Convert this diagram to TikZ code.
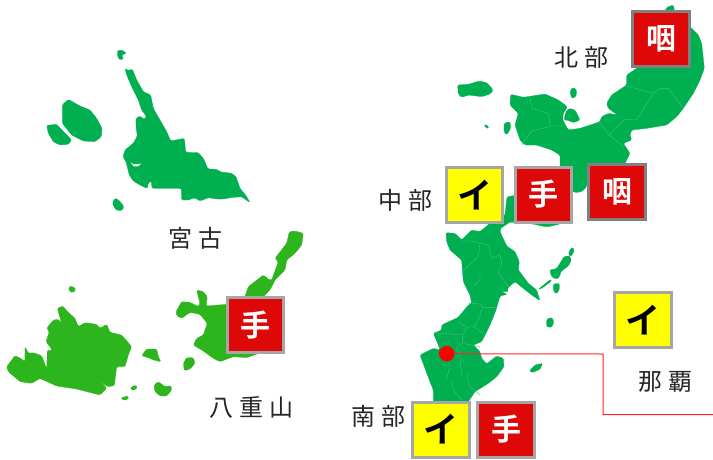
\documentclass[tikz,border=0pt]{standalone}
\usepackage{fontspec}
\setmainfont{Noto Sans CJK JP}
\newfontfamily\boxfont[BoldFont={Noto Sans CJK JP Bold}]{Noto Sans CJK JP}
\newcommand{\glyph}[1]{\raisebox{-3pt}{#1}}
\newcommand{\kerned}{\hspace{6pt}}
\definecolor{landA}{HTML}{00B050}
\definecolor{landB}{HTML}{2DB51D}
\definecolor{seam}{HTML}{45C277}
\definecolor{boxred}{HTML}{DF0808}
\definecolor{boxyellow}{HTML}{FFFF00}
\definecolor{edgeL}{HTML}{A6A6A6}
\definecolor{edgeD}{HTML}{808080}
\tikzset{
  landa/.style={fill=landA,draw=landA,line width=.3pt,line join=round,rounded corners=1.3pt},
  landb/.style={fill=landB,draw=landB,line width=.3pt,line join=round,rounded corners=1.3pt},
  seamline/.style={draw=seam,line width=.4pt,line join=round,rounded corners=1pt},
  mark box/.style={minimum width=56.5pt,minimum height=55pt,inner sep=0pt,line width=3pt,font=\boxfont\bfseries\fontsize{30}{30}\selectfont},
  redbox/.style={mark box,fill=boxred,text=white,draw=edgeL},
  redboxd/.style={redbox,draw=edgeD},
  yellowbox/.style={mark box,fill=boxyellow,text=black,draw=edgeL,font=\boxfont\bfseries\fontsize{35}{35}\selectfont},
  area/.style={font=\fontsize{24}{24}\selectfont,text=black!85,inner sep=0pt},
  zoomed/.style={x=.33333pt,y=-.33333pt}
}
\begin{document}
\begin{tikzpicture}[x=1pt,y=-1pt]
\useasboundingbox (0,0) rectangle (713,459);
% Miyako
\begin{scope}[yshift=-30pt,zoomed]
\path[landa] (375,115)--(385,122)--(397,117)--(410,150)--(430,185)--(452,195)--(460,235)--(480,270)--(500,305)--(512,333)--(553,325)--(557,367)--(595,368)--(610,385)--(624,417)--(650,418)--(662,426)--(695,430)--(708,440)--(720,475)--(738,497)--(750,518)--(725,500)--(690,503)--(672,507)--(650,507)--(625,503)--(600,513)--(585,503)--(565,510)--(545,510)--(544,475)--(456,475)--(454,453)--(444,460)--(443,475)--(425,468)--(400,453)--(388,435)--(378,395)--(369,380)--(375,360)--(400,340)--(412,318)--(408,290)--(408,265)--(420,258)--(432,268)--(440,260)--(425,240)--(415,210)--(395,170)--(380,135)--cycle;
\fill[white] (391,396)--(400,403)--(424,401)--(414,409)--(401,409)--cycle;
\path[landa] (352,62)--(365,60)--(380,70)--(370,72)--(364,78)--(372,85)--(360,90)--(353,80)--cycle;
\path[landa] (187,225)--(205,208)--(240,228)--(270,240)--(290,265)--(306,295)--(304,320)--(285,335)--(250,333)--(215,315)--(187,280)--cycle;
\path[landa] (140,286)--(170,283)--(215,330)--(205,343)--(180,345)--(160,335)--(145,310)--cycle;
\path[landa] (345,504)--(358,512)--(372,530)--(365,542)--(348,540)--(337,520)--cycle;
\end{scope}
% Yaeyama
\begin{scope}[yshift=-225pt,zoomed]
\path[landb] (20,425)--(45,392)--(62,400)--(75,410)--(75,365)--(85,385)--(100,383)--(125,392)--(140,432)--(142,375)--(155,378)--(155,372)--(138,350)--(148,320)--(140,310)--(160,285)--(175,283)--(185,295)--(172,250)--(188,243)--(205,262)--(225,280)--(235,305)--(255,293)--(290,298)--(300,310)--(320,298)--(330,322)--(365,330)--(395,365)--(385,390)--(375,425)--(350,425)--(343,482)--(322,485)--(298,465)--(320,490)--(300,510)--(280,505)--(230,492)--(170,483)--(120,460)--(95,475)--(60,470)--(25,440)--cycle;
\path[landb] (528,260)--(545,230)--(570,232)--(595,245)--(600,235)--(590,195)--(610,200)--(622,215)--(618,243)--(680,238)--(700,220)--(735,215)--(745,185)--(790,150)--(808,165)--(815,165)--(835,110)--(825,100)--(860,55)--(868,20)--(885,18)--(910,25)--(905,60)--(885,85)--(860,105)--(855,135)--(825,165)--(810,195)--(790,215)--(790,380)--(740,398)--(700,395)--(660,410)--(640,400)--(610,378)--(580,360)--(590,340)--(610,330)--(622,295)--(600,268)--(570,262)--(545,280)--(530,272)--cycle;
\path[landb] (205,188)--(215,183)--(228,192)--(220,203)--(210,200)--cycle;
\path[landb] (425,392)--(440,372)--(470,372)--(475,395)--(483,410)--(460,405)--(445,398)--cycle;
\path[landb] (550,415)--(560,398)--(580,398)--(585,415)--(570,432)--(553,437)--cycle;
\path[landb] (390,490)--(405,480)--(413,487)--(400,497)--cycle;
\path[landb] (363,518)--(385,513)--(385,522)--(370,526)--cycle;
\path[landb] (462,480)--(475,470)--(495,485)--(513,482)--(515,495)--(500,513)--(480,513)--(465,500)--cycle;
\end{scope}
% Okinawa, north
\begin{scope}[xshift=480pt,zoomed]
\path[landa] (560,22)--(580,15)--(585,40)--(630,80)--(655,105)--(665,130)--(673,205)--(660,240)--(640,280)--(610,325)--(590,350)--(560,375)--(500,385)--(455,390)--(450,405)--(455,420)--(430,430)--(450,460)--(435,490)--(400,560)--(322,560)--(322,540)--(305,518)--(322,520)--(320,560)--(305,575)--(285,578)--(240,540)--(240,465)--(215,450)--(170,435)--(135,435)--(120,420)--(105,375)--(115,340)--(90,315)--(92,283)--(130,292)--(195,282)--(235,300)--(262,320)--(250,340)--(248,360)--(265,390)--(300,385)--(360,365)--(365,350)--(385,340)--(412,345)--(385,325)--(380,310)--(395,285)--(440,255)--(440,225)--(470,205)--(500,190)--cycle;
\path[landa] (268,325)--(285,330)--(300,360)--(280,368)--(262,360)--(252,360)--(258,335)--cycle;
\path[landa] (270,275)--(278,262)--(290,270)--(288,290)--(275,295)--cycle;
\path[landa] (72,370)--(90,365)--(92,385)--(80,405)--(72,395)--cycle;
\path[landa] (12,373)--(25,378)--(26,385)--(18,384)--cycle;
\path[landa] (-67,255)--(-35,253)--(-2,243)--(20,248)--(40,270)--(30,282)--(5,290)--(-35,285)--(-55,292)--(-65,282)--cycle;
\draw[seamline] (150,290)--(155,325)--(205,340)--(210,378)--(245,378);
\draw[seamline] (125,435)--(155,392)--(210,380);
\draw[seamline] (360,368)--(388,405)--(430,440);
\draw[seamline] (388,405)--(432,358)--(470,360)--(520,280)--(540,265)--(565,265)--(610,325);
\draw[seamline] (440,258)--(520,280);
\end{scope}
% bridge
\path[landa] (507,197)--(516,195)--(560,200)--(560,224)--(547,227)--(533,224)--(510,222)--(495,232)--(490,230)--(505,215)--cycle;
% Okinawa, centre and south
\begin{scope}[xshift=400pt,yshift=-210pt,zoomed]
\path[landa] (138,68)--(165,70)--(185,90)--(215,60)--(240,65)--(270,40)--(310,30)--(300,65)--(320,108)--(345,125)--(358,155)--(355,180)--(385,220)--(410,240)--(420,272)--(395,255)--(345,215)--(322,235)--(325,245)--(305,245)--(322,253)--(300,258)--(288,300)--(270,345)--(255,375)--(245,395)--(220,405)--(240,425)--(245,445)--(260,462)--(290,438)--(310,445)--(312,470)--(290,500)--(265,520)--(225,545)--(205,575)--(100,575)--(100,540)--(90,515)--(60,435)--(100,415)--(120,420)--(115,405)--(100,370)--(125,360)--(125,345)--(175,322)--(205,285)--(215,280)--(210,255)--(190,215)--(185,150)--(150,120)--(140,95)--cycle;
\path[landa] (505,132)--(512,115)--(520,112)--(522,125)--(512,140)--cycle;
\path[landa] (492,140)--(508,137)--(514,150)--(505,168)--(482,185)--(480,198)--(470,208)--(455,200)--(449,180)--(470,176)--cycle;
\path[landa] (415,238)--(452,208)--(455,213)--(425,235)--cycle;
\path[landa] (460,222)--(478,220)--(478,240)--(468,252)--(460,240)--cycle;
\path[landa] (440,328)--(455,322)--(462,335)--(455,352)--(440,350)--cycle;
\path[landa] (388,482)--(405,465)--(428,460)--(420,478)--(395,488)--cycle;
\draw[seamline] (185,95)--(210,92)--(240,100)--(235,140)--(192,180);
\draw[seamline] (240,100)--(265,105)--(275,145)--(300,135)--(305,160)--(295,190)--(325,230);
\draw[seamline] (240,175)--(240,210)--(225,225);
\draw[seamline] (205,280)--(240,282)--(248,292)--(290,292);
\draw[seamline] (248,292)--(235,330)--(222,350)--(200,352)--(175,335);
\draw[seamline] (222,350)--(250,370);
\draw[seamline] (200,352)--(188,375)--(188,400);
\draw[seamline] (100,368)--(130,370)--(188,375);
\draw[seamline] (188,400)--(240,410);
\draw[seamline] (170,410)--(180,440)--(185,500);
\draw[seamline] (150,470)--(140,505);
\draw[seamline] (155,510)--(160,540)--(185,570);
\draw[seamline] (200,490)--(210,530)--(240,555);
\end{scope}
% red connector
\node[circle,fill=red,inner sep=0pt,minimum size=15.5pt] (dot) at (446.7,353.7) {};
\coordinate (bendA) at (603,354);
\coordinate (bendB) at (603,414.5);
\coordinate (lineEnd) at (713,414.5);
\draw[red!85!white,line width=1pt] (dot) -- (bendA) -- (bendB) -- (lineEnd);
% boxes
\node[redboxd] (bN) at (661,39) {\glyph{咽}};
\node[redboxd] (bC3) at (617,192) {\glyph{咽}};
\node[redbox] (bC2) at (543.5,194.5) {\glyph{手}};
\node[yellowbox] (bC1) at (474.5,195) {\glyph{イ}};
\node[yellowbox] (bNaha) at (643,320) {\glyph{イ}};
\node[yellowbox] (bS1) at (441,429.5) {\glyph{イ}};
\node[redbox] (bS2) at (506,429.5) {\glyph{手}};
\node[redbox] (bY) at (255.5,325) {\glyph{手}};
% labels
\node[area] (lN) at (581,57) {北\kerned 部};
\node[area] (lC) at (405,200) {中\kerned 部};
\node[area] (lM) at (195,238) {宮\kerned 古};
\node[area] (lY) at (251,407) {八\kerned 重\kerned 山};
\node[area] (lS) at (378,416) {南\kerned 部};
\node[area] (lH) at (665,382) {那\kerned 覇};
\end{tikzpicture}
\end{document}
